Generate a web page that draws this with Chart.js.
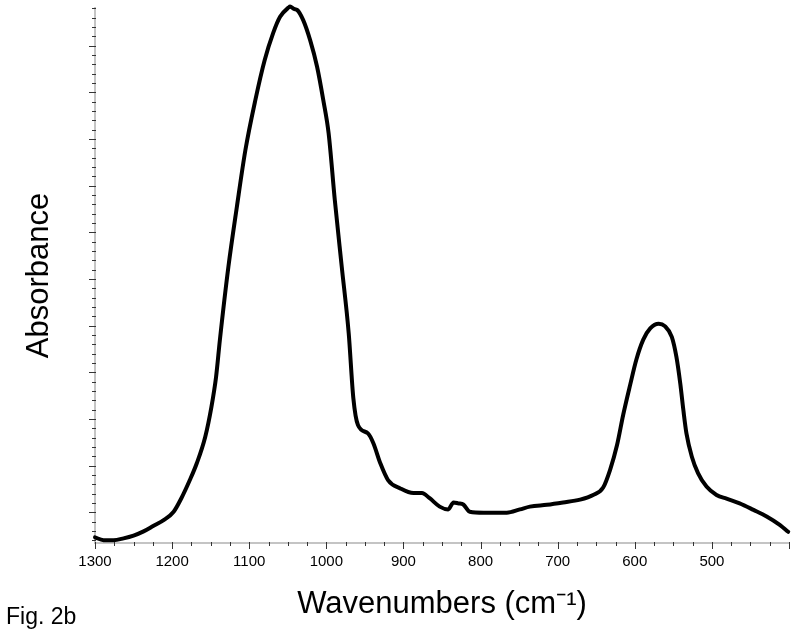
<!DOCTYPE html>
<html>
<head>
<meta charset="utf-8">
<script src="https://cdn.jsdelivr.net/npm/chart.js@4.4.0/dist/chart.umd.min.js"></script>
<style>
    body { margin: 0; background: #fff; }
    #wrap { position: relative; width: 800px; height: 637px; }
    #figLabel {
        position: absolute; left: 6px; top: 605px;
        font: 23px "Liberation Sans", Arial, sans-serif; line-height: 23px; color: #000;
    }
</style>
</head>
<body>
<div id="wrap">
    <canvas id="spectrum" width="800" height="637"></canvas>
    <div id="figLabel">Fig. 2b</div>
</div>
<script>
// spectrum (x = wavenumber, y = absorbance, arbitrary units)
var wavenumbers = [1300, 1289, 1276, 1263, 1250, 1237, 1224, 1211, 1198, 1188,
    1177, 1168, 1157, 1149, 1143, 1138, 1127, 1116, 1105, 1092,
    1080, 1069, 1060, 1049, 1047, 1042, 1038, 1030, 1021, 1012,
    1004, 997, 989, 980, 971, 965,
    959, 946, 939, 930, 920, 904, 887, 876, 866, 853,
    842, 835, 829, 822, 814, 796, 766, 749, 736, 714,
    693, 671, 654, 641, 632, 623, 615, 606, 598, 589,
    580, 569, 561, 552, 546, 541, 537, 533, 526, 518,
    507, 494, 481, 464, 446, 429, 412, 401];
var absorbance = [-0.054, -0.060, -0.060, -0.056, -0.050, -0.041, -0.029, -0.017, 0.001, 0.030,
    0.069, 0.105, 0.162, 0.226, 0.290, 0.370, 0.526, 0.655, 0.776, 0.884,
    0.969, 1.027, 1.062, 1.082, 1.084, 1.079, 1.077, 1.055, 1.012, 0.955,
    0.884, 0.812, 0.669, 0.526, 0.384, 0.245,
    0.187, 0.169, 0.148, 0.105, 0.069, 0.051, 0.041, 0.041, 0.030, 0.012,
    0.006, 0.021, 0.019, 0.016, 0.001, -0.001, -0.001, 0.006, 0.012, 0.016,
    0.021, 0.027, 0.037, 0.053, 0.091, 0.144, 0.209, 0.273, 0.327, 0.370,
    0.394, 0.404, 0.399, 0.376, 0.333, 0.276, 0.219, 0.169, 0.119, 0.084,
    0.055, 0.037, 0.029, 0.019, 0.005, -0.009, -0.027, -0.042];
var xTickLabels = [1300, 1200, 1100, 1000, 900, 800, 700, 600, 500];

var xMin = 400, xMax = 1300;
var yMin = -0.066, yMax = 1.081;
var fontFamily = '"Liberation Sans", Arial, sans-serif';

// small/large tick marks like the original plot
var tickMarks = {
    id: 'tickMarks',
    afterDraw: function (chart) {
        var ctx = chart.ctx;
        var xs = chart.scales.x;
        var ys = chart.scales.y;
        ctx.save();
        ctx.strokeStyle = '#333';
        ctx.lineWidth = 1;
        xs.ticks.forEach(function (t) {
            var px = Math.round(xs.getPixelForValue(t.value)) + 0.5;
            var major = t.value % 100 === 0;
            ctx.beginPath();
            ctx.moveTo(px, xs.top - 1);
            ctx.lineTo(px, xs.top + (major ? 6 : 3));
            ctx.stroke();
        });
        ys.ticks.forEach(function (t) {
            var py = Math.round(ys.getPixelForValue(t.value)) + 0.5;
            var major = Math.abs(Math.round(t.value * 50) % 5) === 0;
            ctx.beginPath();
            ctx.moveTo(ys.right - (major ? 6 : 3), py);
            ctx.lineTo(ys.right + 1, py);
            ctx.stroke();
        });
        ctx.restore();
    }
};

var points = wavenumbers.map(function (w, i) {
    return { x: w, y: absorbance[i] };
});

new Chart(document.getElementById('spectrum'), {
    type: 'line',
    data: {
        datasets: [{
            data: points,
            borderColor: '#000',
            borderWidth: 4,
            pointRadius: 0,
            cubicInterpolationMode: 'monotone',
            borderJoinStyle: 'round',
            borderCapStyle: 'round',
            clip: false
        }]
    },
    options: {
        responsive: false,
        animation: false,
        layout: { padding: { left: 0, top: 8, right: 11, bottom: 0 } },
        plugins: {
            legend: { display: false },
            tooltip: { enabled: false }
        },
        scales: {
            x: {
                type: 'linear',
                reverse: true,
                min: xMin,
                max: xMax,
                grid: { display: false, drawTicks: false },
                border: { display: true, color: '#c4c4c4', width: 2 },
                ticks: {
                    stepSize: 25,
                    autoSkip: false,
                    maxRotation: 0,
                    padding: 10,
                    color: '#000',
                    font: { family: fontFamily, size: 15 },
                    callback: function (value) {
                        return xTickLabels.indexOf(value) >= 0 ? String(value) : '';
                    }
                },
                title: {
                    display: true,
                    text: 'Wavenumbers (cm\u207B\u00B9)',
                    color: '#000',
                    font: { family: fontFamily, size: 31 },
                    padding: { top: 0, bottom: 14 }
                },
                afterFit: function (scale) {
                    scale.height = 94;
                }
            },
            y: {
                type: 'linear',
                min: yMin,
                max: yMax,
                grid: { display: false, drawTicks: false },
                border: { display: true, color: '#c4c4c4', width: 2 },
                ticks: { display: false },
                afterBuildTicks: function (scale) {
                    var list = [];
                    for (var i = -3; i <= 54; i++) {
                        list.push({ value: i * 0.02 });
                    }
                    scale.ticks = list;
                },
                title: {
                    display: true,
                    text: 'Absorbance',
                    color: '#000',
                    font: { family: fontFamily, size: 31 },
                    padding: { top: 21, bottom: 0 }
                },
                afterFit: function (scale) {
                    scale.width = 95;
                }
            }
        }
    },
    plugins: [tickMarks]
});
</script>
</body>
</html>
